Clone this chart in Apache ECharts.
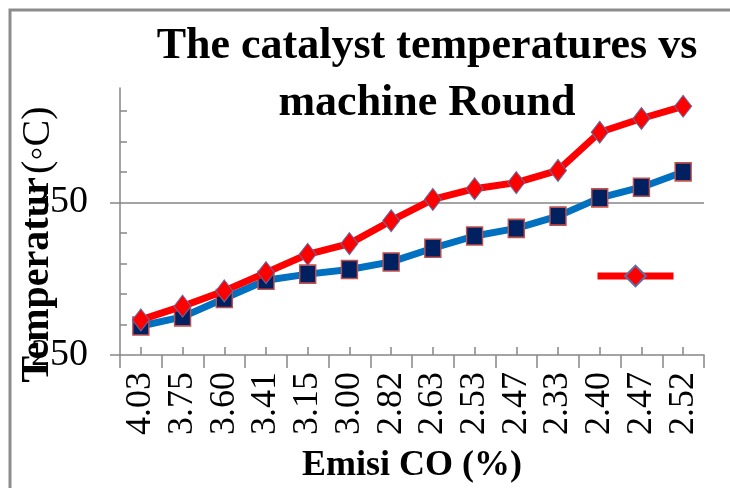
<!DOCTYPE html>
<html>
<head>
<meta charset="utf-8">
<script src="https://cdn.jsdelivr.net/npm/echarts@6/dist/echarts.min.js"></script>
<style>html,body{margin:0;padding:0;background:#fff}#c{width:730px;height:488px}</style>
</head>
<body>
<div id="c"></div>
<script>
var categories = ['4.03','3.75','3.60','3.41','3.15','3.00','2.82','2.63','2.53','2.47','2.33','2.40','2.47','2.52'];
var redSeries = [273,282,292,304,316,323,338,352,359,363,371,396,405,413];
var blueSeries = [269,275,287,299,303,306,311,320,328,333,341,353,360,370];
var yMajorTicks = [250,350];
var yMinorTicks = [270,290,310,330,370,390,410];
var yMin = 250, yMax = 425;

var serif = "'Liberation Serif','Times New Roman',serif";
var chart = echarts.init(document.getElementById('c'));
chart.setOption({
  animation: false,
  backgroundColor: '#fff',
  title: {
    text: 'The catalyst temperatures vs\nmachine Round',
    left: 427, top: 18, padding: 0, textAlign: 'center',
    textStyle: {fontFamily: serif, fontWeight: 'bold', fontSize: 44, lineHeight: 57, color: '#000'}
  },
  graphic: [{
    type: 'rect', z: 100, silent: true,
    shape: {x: 10, y: 10, width: 740, height: 500},
    style: {fill: 'none', stroke: '#8c8c8c', lineWidth: 3}
  }],
  legend: {
    data: ['Series 1'], left: 589, top: 258, itemWidth: 76, itemHeight: 26,
    lineStyle: {width: 7},
    formatter: function () { return ''; }, selectedMode: false
  },
  grid: {left: 120, right: 26, top: 88, bottom: 133, containLabel: false, outerBoundsMode: 'none'},
  xAxis: [{
    type: 'category', data: categories, boundaryGap: true,
    name: 'Emisi CO (%)', nameLocation: 'middle', nameGap: 93, nameMoveOverlap: false,
    nameTextStyle: {fontFamily: serif, fontWeight: 'bold', fontSize: 36, color: '#000'},
    axisLine: {lineStyle: {color: '#868686', width: 1.5}},
    axisTick: {show: true, interval: 0, length: 13, lineStyle: {color: '#868686', width: 1.5}},
    axisLabel: {rotate: 90, interval: 0, margin: 17, fontFamily: serif, fontSize: 36, color: '#000'}
  }, {
    type: 'category', data: categories, boundaryGap: true, position: 'bottom', offset: 0,
    axisLine: {show: false},
    axisTick: {show: true, inside: true, alignWithLabel: true, interval: 0, length: 8, lineStyle: {color: '#868686', width: 1.5}},
    axisLabel: {show: false}
  }],
  yAxis: [{
    type: 'value', min: yMin, max: yMax,
    name: '{b|Temperatur} {n|(\u25E6C)}', nameLocation: 'middle', nameGap: 62, nameMoveOverlap: false,
    nameTextStyle: {
      padding: [0, 46, 0, 0],
      rich: {
        b: {fontFamily: serif, fontWeight: 'bold', fontSize: 40, color: '#000'},
        n: {fontFamily: serif, fontSize: 40, color: '#000'}
      }
    },
    axisLine: {show: true, lineStyle: {color: '#868686', width: 1.5}},
    axisTick: {show: true, customValues: yMajorTicks, length: 10, lineStyle: {color: '#868686', width: 1.5}},
    axisLabel: {customValues: yMajorTicks, margin: 32, fontFamily: serif, fontSize: 38, color: '#000'},
    splitLine: {show: false}
  }, {
    type: 'value', min: yMin, max: yMax, position: 'left', offset: 0,
    axisLine: {show: false},
    axisTick: {show: true, inside: true, customValues: yMinorTicks, length: 7, lineStyle: {color: '#868686', width: 1.5}},
    axisLabel: {show: false},
    splitLine: {show: false}
  }],
  series: [{
    name: 'Series 2', type: 'line', data: blueSeries, xAxisIndex: 0, yAxisIndex: 0,
    symbol: 'rect', symbolSize: [16, 18],
    lineStyle: {color: '#0070C0', width: 7},
    itemStyle: {color: '#002060', borderColor: '#C0504D', borderWidth: 1.5},
    z: 2,
    markLine: {
      z: 1, silent: true, symbol: 'none', label: {show: false},
      lineStyle: {color: '#868686', width: 1.5, type: 'solid'},
      data: [{yAxis: 350}]
    }
  }, {
    name: 'Series 1', type: 'line', data: redSeries, xAxisIndex: 0, yAxisIndex: 0,
    symbol: 'diamond', symbolSize: [17, 22],
    lineStyle: {color: '#FF0000', width: 7},
    itemStyle: {color: '#FF0000', borderColor: '#5b6fa8', borderWidth: 1},
    z: 3
  }]
});
</script>
</body>
</html>
